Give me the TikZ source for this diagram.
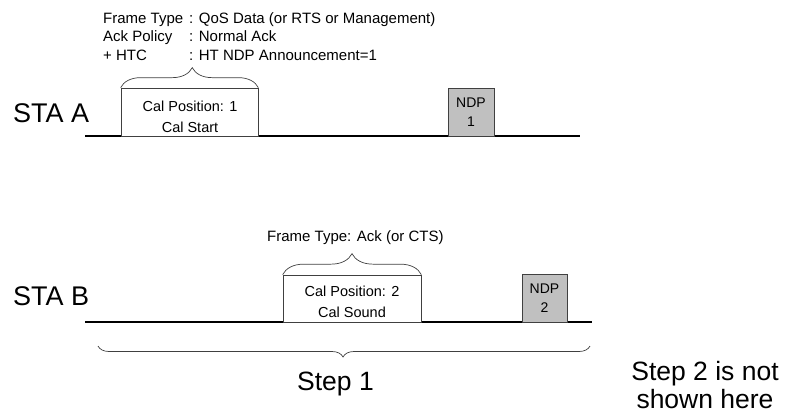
\documentclass[tikz,border=0pt]{standalone}
\usepackage{fontspec}
\setmainfont{Liberation Sans}
\usetikzlibrary{decorations.pathreplacing}
\definecolor{ndpfill}{HTML}{C0C0C0}
\definecolor{edge}{HTML}{404040}
\begin{document}
\begin{tikzpicture}[x=1pt,y=-1pt,
  axis/.style={draw=black,line width=1.1pt},
  calbox/.style={draw=edge,line width=0.7pt,fill=white,inner sep=0pt},
  ndpbox/.style={draw=edge,line width=0.7pt,fill=ndpfill,inner sep=0pt,align=center,font=\fontsize{14}{19}\selectfont},
  boxtext/.style={align=center,inner sep=0pt,font=\fontsize{14.5}{20.5}\selectfont},
  hdr/.style={anchor=base west,inner sep=0pt,font=\fontsize{15}{18}\selectfont},
  sta/.style={anchor=base west,inner sep=0pt,font=\fontsize{27}{30}\selectfont},
  steptxt/.style={anchor=base,inner sep=0pt,font=\fontsize{26.5}{28}\selectfont},
  bracedeco/.style={draw=edge,line width=0.7pt,decorate,decoration={brace,amplitude=#1}}
]
\useasboundingbox (0,0) rectangle (787,418);

% header text for STA A
\node[hdr] (h1) at (103,23) {\makebox[86pt][l]{Frame Type}: QoS Data (or RTS or Management)};
\node[hdr] (h2) at (103,41.5) {\makebox[86pt][l]{Ack Policy}: Normal Ack};
\node[hdr] (h3) at (103,60) {\makebox[86pt][l]{+ HTC}: HT NDP Announcement=1};

% STA A
\node[sta] (staA) at (13,122) {STA A};
\coordinate (aL) at (85,136);
\coordinate (aR) at (580,136);
\draw[axis] (aL) -- (aR);
\node[calbox,minimum width=137pt,minimum height=48pt] (calA) at (189.5,112) {};
\node[boxtext] (calAt) at (190,117) {Cal Position: 1\\Cal Start};
\node[ndpbox,minimum width=46pt,minimum height=48pt] (ndp1) at (471,112) {NDP\\1};
\draw[bracedeco=20pt,decoration={aspect=0.52}] (calA.north west) -- (calA.north east);

% STA B
\node[hdr] (h4) at (267,241) {Frame Type: Ack (or CTS)};
\node[sta] (staB) at (13,305) {STA B};
\coordinate (bL) at (85,322);
\coordinate (bR) at (592,322);
\draw[axis] (bL) -- (bR);
\node[calbox,minimum width=138pt,minimum height=47pt] (calB) at (352,298.5) {};
\node[boxtext] (calBt) at (352,302) {Cal Position: 2\\Cal Sound};
\node[ndpbox,minimum width=45pt,minimum height=48pt] (ndp2) at (544.5,298) {NDP\\2};
\draw[bracedeco=21pt,decoration={aspect=0.5}] (calB.north west) -- (calB.north east);

% Step brace
\coordinate (sR) at (590,346);
\coordinate (sL) at (98,346);
\draw[bracedeco=11pt,decoration={aspect=0.502}] (sR) -- (sL);
\node[steptxt] (step1) at (335.5,390) {Step 1};
\node[steptxt] (step2a) at (705,380) {Step 2 is not};
\node[steptxt] (step2b) at (705,408) {shown here};
\end{tikzpicture}
\end{document}
